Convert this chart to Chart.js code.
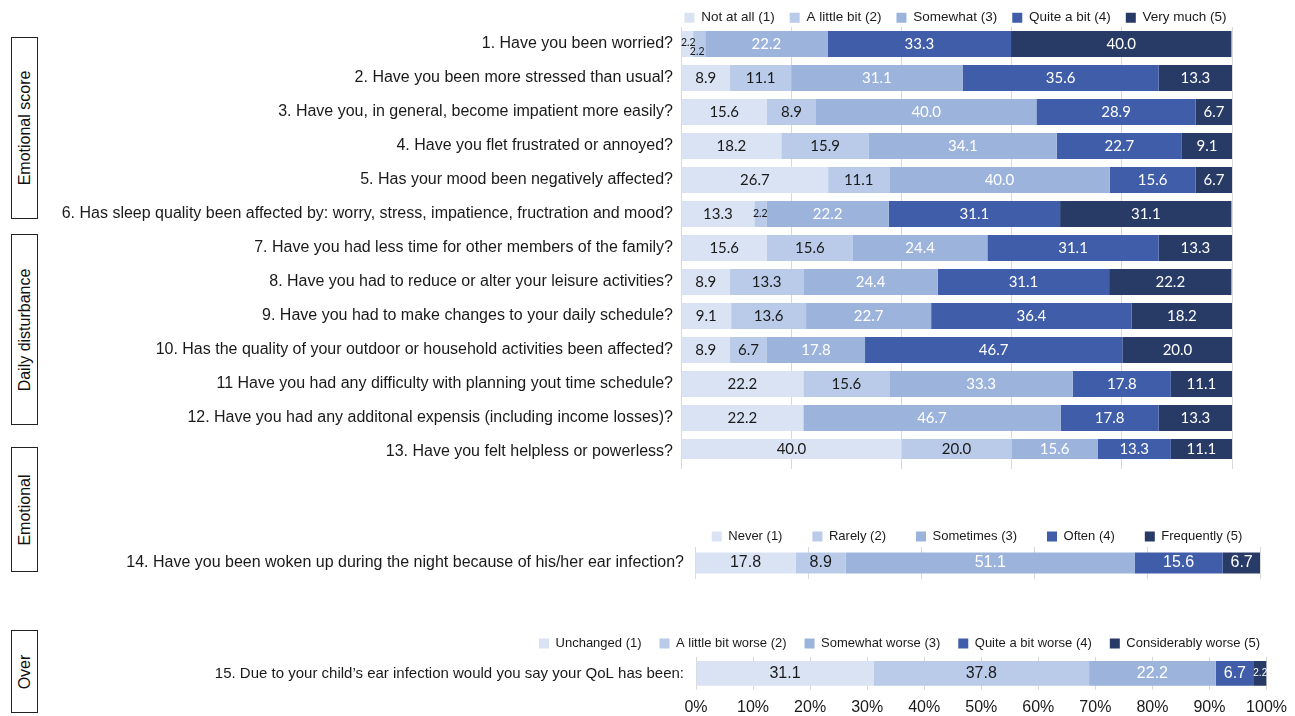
<!DOCTYPE html>
<html><head><meta charset="utf-8">
<script src="https://cdn.jsdelivr.net/npm/chart.js@4/dist/chart.umd.min.js"></script>
<style>
html,body{margin:0;padding:0;background:#fff;width:1295px;height:716px;overflow:hidden;position:relative;font-family:"Liberation Sans",Arial,sans-serif;}
canvas{position:absolute;left:0;}
.box{position:absolute;left:11px;width:27px;border:1px solid #222;box-sizing:border-box;background:#fff;}
.box span{position:absolute;left:50%;top:50%;transform:translate(-50%,-50%) rotate(-90deg);white-space:nowrap;font-size:16px;color:#111;}
</style></head>
<body>
<div class="box" style="top:37px;height:182px"><span id="g0"></span></div>
<div class="box" style="top:234px;height:191px"><span id="g1"></span></div>
<div class="box" style="top:447px;height:125px"><span id="g2"></span></div>
<div class="box" style="top:630px;height:83px"><span id="g3"></span></div>
<canvas id="c1" width="1295" height="473" style="top:-4px"></canvas>
<canvas id="c2" width="1295" height="79" style="top:500px"></canvas>
<canvas id="c3" width="1295" height="106" style="top:619px"></canvas>
<script>
// ---------- DATA ----------
const groupLabels = ['Emotional score', 'Daily disturbance', 'Emotional', 'Over'];

const questions = [
  '1. Have you been worried?',
  '2. Have you been more stressed than usual?',
  '3. Have you, in general, become impatient more easily?',
  '4. Have you flet frustrated or annoyed?',
  '5. Has your mood been negatively affected?',
  '6. Has sleep quality been affected by: worry, stress, impatience, fructration and mood?',
  '7. Have you had less time for other members of the family?',
  '8. Have you had to reduce or alter your leisure activities?',
  '9. Have you had to make changes to your daily schedule?',
  '10. Has the quality of your outdoor or household activities been affected?',
  '11 Have you had any difficulty with planning yout time schedule?',
  '12. Have you had any additonal expensis (including income losses)?',
  '13. Have you felt helpless or powerless?'
];
const scaleA = ['Not at all (1)', 'A little bit (2)', 'Somewhat (3)', 'Quite a bit (4)', 'Very much (5)'];
const notAtAll   = [2.2, 8.9, 15.6, 18.2, 26.7, 13.3, 15.6, 8.9, 9.1, 8.9, 22.2, 22.2, 40.0];
const aLittleBit = [2.2, 11.1, 8.9, 15.9, 11.1, 2.2, 15.6, 13.3, 13.6, 6.7, 15.6, 0, 20.0];
const somewhat   = [22.2, 31.1, 40.0, 34.1, 40.0, 22.2, 24.4, 24.4, 22.7, 17.8, 33.3, 46.7, 15.6];
const quiteABit  = [33.3, 35.6, 28.9, 22.7, 15.6, 31.1, 31.1, 31.1, 36.4, 46.7, 17.8, 17.8, 13.3];
const veryMuch   = [40.0, 13.3, 6.7, 9.1, 6.7, 31.1, 13.3, 22.2, 18.2, 20.0, 11.1, 13.3, 11.1];

const question14 = ['14. Have you been woken up during the night because of his/her ear infection?'];
const scaleB = ['Never (1)', 'Rarely (2)', 'Sometimes (3)', 'Often (4)', 'Frequently (5)'];
const never = [17.8], rarely = [8.9], sometimes = [51.1], often = [15.6], frequently = [6.7];

const question15 = ['15. Due to your child\u2019s ear infection would you say your QoL has been:'];
const scaleC = ['Unchanged (1)', 'A little bit worse (2)', 'Somewhat worse (3)', 'Quite a bit worse (4)', 'Considerably worse (5)'];
const unchanged = [31.1], littleWorse = [37.8], somewhatWorse = [22.2], quiteWorse = [6.7], considerablyWorse = [2.2];

const xTicks = [0, 10, 20, 30, 40, 50, 60, 70, 80, 90, 100];

// ---------- STYLE ----------
const colors = ['#dae3f3', '#b9cbe9', '#9cb3dc', '#3f5da8', '#283a66'];
const labelColors = ['#1a1a1a', '#1a1a1a', '#ffffff', '#ffffff', '#ffffff'];
const FONT = '"Liberation Sans", Arial, sans-serif';

groupLabels.forEach((t, i) => document.getElementById('g' + i).textContent = t);

const measureCtx = document.createElement('canvas').getContext('2d');
function widestLabel(labels, size) {
  measureCtx.font = 'normal ' + size + 'px ' + FONT;
  return Math.max(...labels.map(l => measureCtx.measureText(l).width));
}

const segLabels = {
  id: 'segLabels',
  afterDatasetsDraw(chart, args, opts) {
    const ctx = chart.ctx;
    const area = chart.chartArea;
    const clipBottom = area.bottom + (opts.clipBottom || 0);
    const dss = chart.data.datasets;
    ctx.save();
    dss.forEach((ds, di) => {
      const meta = chart.getDatasetMeta(di);
      meta.data.forEach((el, i) => {
        const v = ds.data[i];
        if (!v) return;
        const p = el.getProps(['x', 'y', 'base', 'height'], true);
        const small = v < 5;
        const prev = di > 0 ? dss[di - 1].data[i] : 0;
        const next = di < dss.length - 1 ? dss[di + 1].data[i] : 0;
        const top = p.y - p.height / 2;
        const bot = Math.min(p.y + p.height / 2, clipBottom);
        let cy = (top + bot) / 2;
        let cx = (p.x + p.base) / 2;
        if (small && prev > 0 && prev < 5) { cy += 8; cx -= 2; }
        else if (small && next > 0 && next < 5) { cy -= 1; cx += 1; }
        ctx.font = small ? opts.smallFont : opts.font;
        ctx.fillStyle = labelColors[di];
        ctx.textAlign = 'center';
        ctx.textBaseline = 'middle';
        ctx.fillText(v.toFixed(1), cx, cy);
      });
    });
    ctx.restore();
  }
};

function makeDatasets(names, arrays, clip) {
  return names.map((n, k) => ({
    label: n,
    data: arrays[k],
    backgroundColor: colors[k],
    borderWidth: 0,
    clip: clip
  }));
}

function makeChart(id, labels, names, arrays, cfg) {
  const widest = widestLabel(labels, cfg.ySize);
  const scales = {
    x: {
      stacked: true, min: 0, max: 100,
      ticks: {
        display: !!cfg.showX, stepSize: cfg.step, padding: 8,
        color: '#1a1a1a', font: { family: FONT, size: 16 },
        callback: v => v + '%'
      },
      grid: { color: '#d9d9d9', drawTicks: false, lineWidth: 1 },
      border: { display: false }
    },
    y: {
      stacked: true,
      ticks: {
        color: '#1a1a1a', mirror: true, crossAlign: 'far',
        padding: -(widest + cfg.yGap),
        font: { family: FONT, size: cfg.ySize }
      },
      grid: { display: false, drawTicks: false },
      border: { display: true, color: '#d9d9d9' },
      afterFit: s => { s.width = cfg.yWidth; s.paddingTop = 0; s.paddingBottom = 0; }
    }
  };
  if (cfg.showX) {
    scales.x.afterBuildTicks = s => { s.ticks = xTicks.map(v => ({ value: v })); };
  }
  if (cfg.rightW) {
    scales.yr = {
      type: 'category', position: 'right', display: true,
      ticks: { display: false }, grid: { display: false, drawTicks: false }, border: { display: false },
      afterFit: s => { s.width = cfg.rightW; s.paddingTop = 0; s.paddingBottom = 0; }
    };
  }
  return new Chart(document.getElementById(id), {
    type: 'bar',
    data: { labels: labels, datasets: makeDatasets(names, arrays, cfg.clip || 0) },
    plugins: [segLabels],
    options: {
      responsive: false,
      animation: false,
      indexAxis: 'y',
      datasets: { bar: { barPercentage: cfg.barPct, categoryPercentage: 1 } },
      layout: { padding: { left: cfg.padLeft, right: cfg.padRight, top: 0, bottom: 0 } },
      scales: scales,
      plugins: {
        legend: {
          position: 'top',
          fullSize: true,
          align: 'center',
          maxHeight: cfg.legendH,
          labels: {
            boxWidth: 10, boxHeight: 10, padding: cfg.legendPad,
            color: '#1a1a1a', font: { family: FONT, size: cfg.legendSize }
          }
        },
        tooltip: { enabled: false },
        segLabels: cfg.labelOpts
      }
    }
  });
}

// chart 1: plot 681..1232, legend centred at ~956
makeChart('c1', questions, scaleA, [notAtAll, aLittleBit, somewhat, quiteABit, veryMuch], {
  barPct: 0.765, padLeft: 636, padRight: 20, rightW: 43, step: 20, yGap: 8, yWidth: 45, ySize: 16,
  legendH: 31, legendPad: 15, legendSize: 13.5,
  clip: { left: 0, top: 0, right: 0, bottom: -10 },
  labelOpts: { font: '15px Lato, ' + FONT, smallFont: '10.5px Lato, ' + FONT, clipBottom: -10 }
});

// chart 2: plot 695..1260
makeChart('c2', question14, scaleB, [never, rarely, sometimes, often, frequently], {
  barPct: 0.656, padLeft: 669, padRight: 10, rightW: 25, step: 20, yGap: 11, yWidth: 26, ySize: 16,
  legendH: 47, legendPad: 30, legendSize: 13,
  labelOpts: { font: '16px ' + FONT, smallFont: '10px ' + FONT }
});

// chart 3: plot 696..1267
makeChart('c3', question15, scaleC, [unchanged, littleWorse, somewhatWorse, quiteWorse, considerablyWorse], {
  barPct: 0.758, padLeft: 507, padRight: 3, rightW: 25, step: 10, yGap: 12, yWidth: 189, ySize: 15, showX: true,
  legendH: 38, legendPad: 18, legendSize: 13,
  labelOpts: { font: '16px ' + FONT, smallFont: '10px ' + FONT }
});
</script>
</body></html>
